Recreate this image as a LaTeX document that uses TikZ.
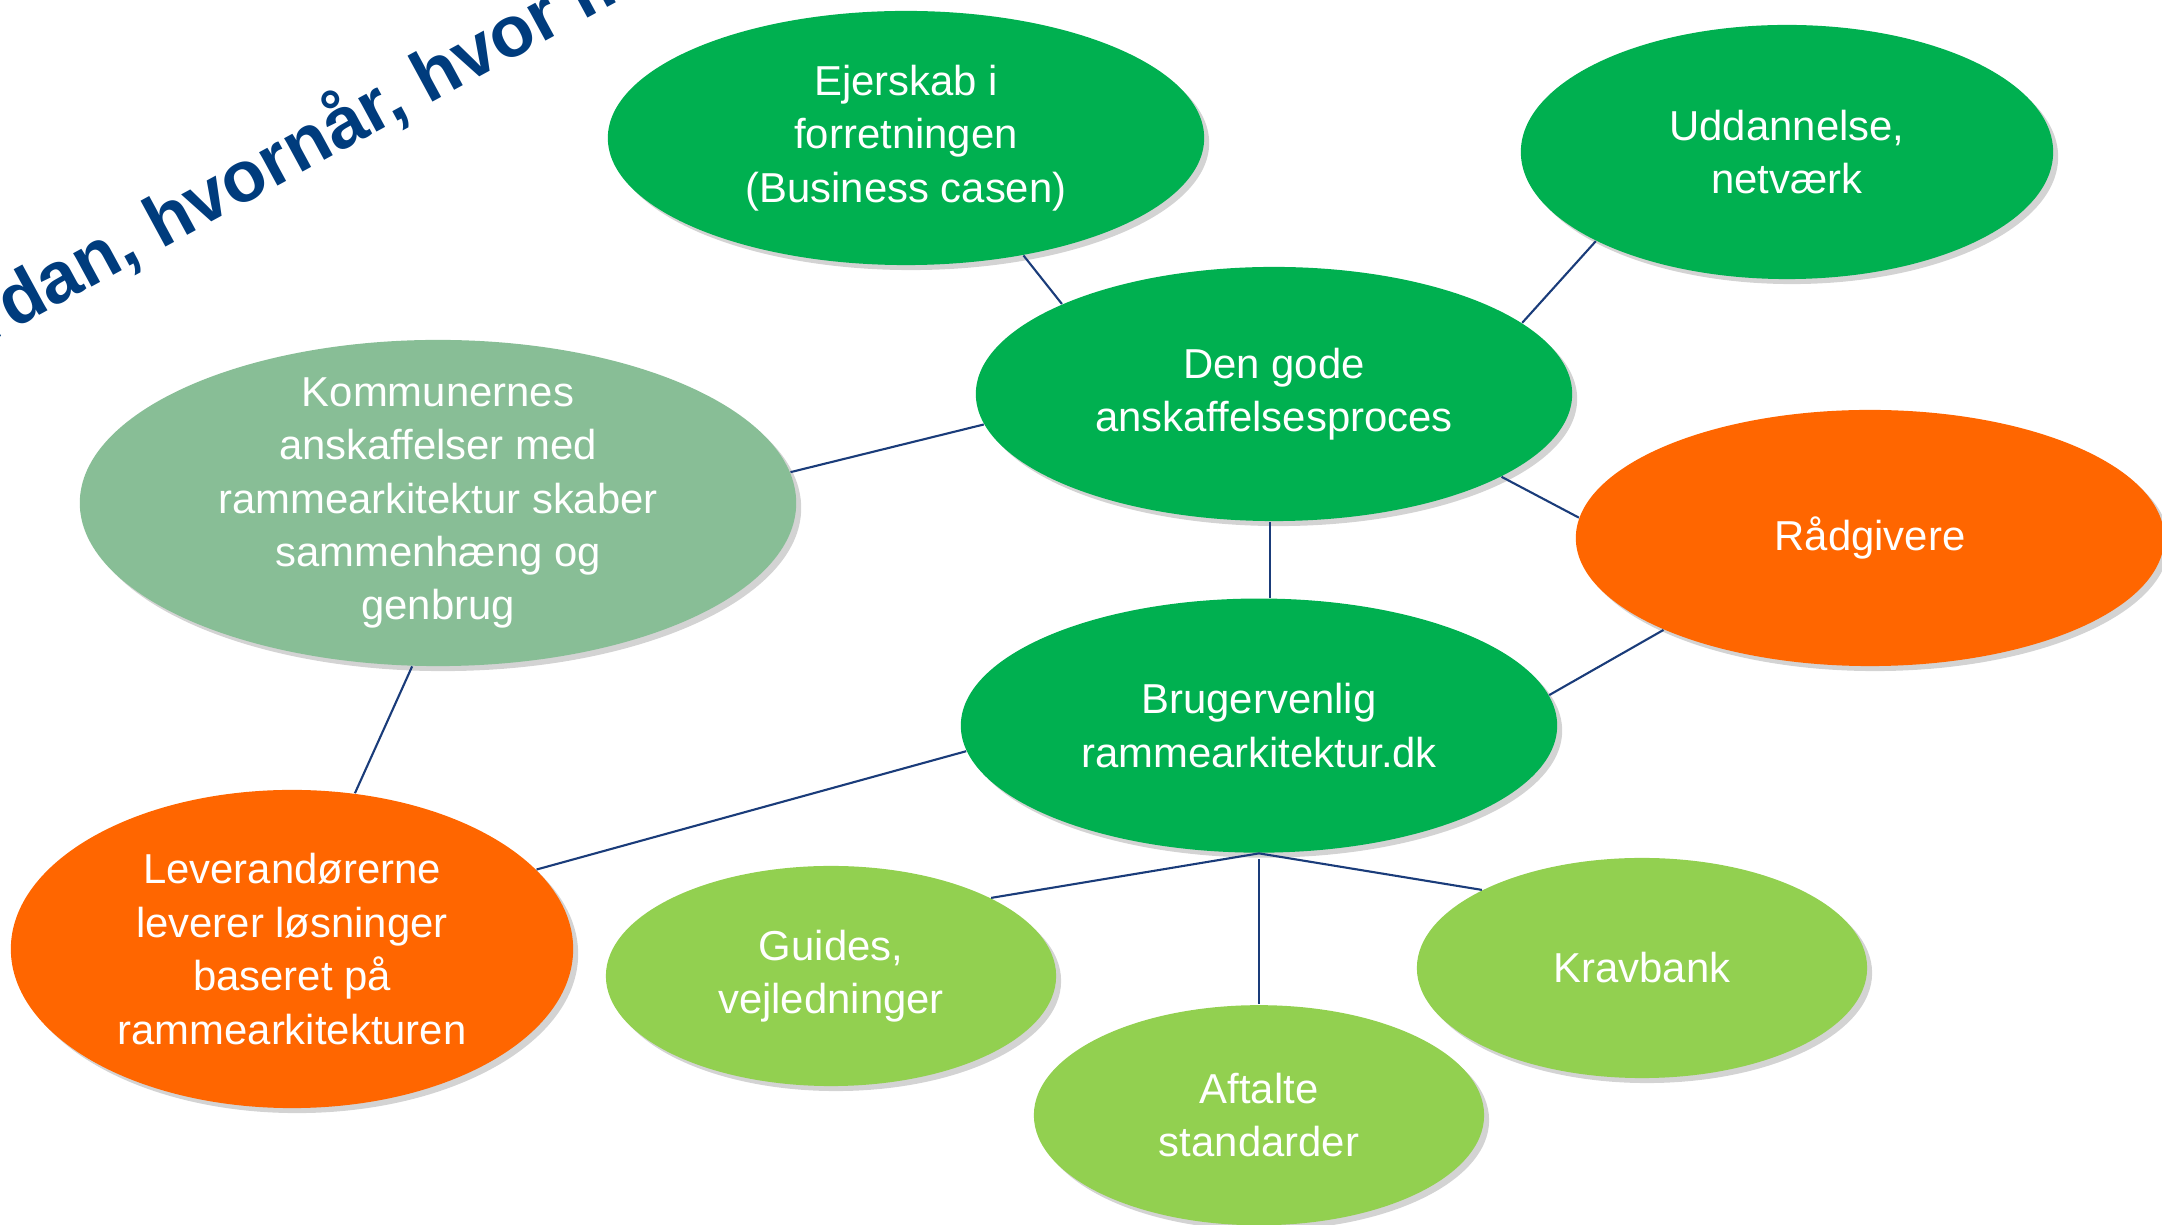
\documentclass[tikz,border=0pt]{standalone}
\usepackage{fontspec}
\setmainfont{Liberation Sans}
\usetikzlibrary{shapes.geometric,shadows,positioning}

\definecolor{darkgreen}{HTML}{00B050}
\definecolor{lightgreen}{HTML}{92D050}
\definecolor{rdorange}{HTML}{FF6600}
\definecolor{greygreen}{HTML}{88BE96}
\definecolor{titleblue}{HTML}{003C7D}
\definecolor{linkblue}{HTML}{1A3C7A}

\tikzset{
  bubble/.style={ellipse, fill=#1, text=white, align=center, inner sep=0pt,
    font=\fontsize{11.9}{15.2}\selectfont,
    drop shadow={opacity=0.35, shadow xshift=0.05cm, shadow yshift=-0.05cm}},
  wide/.style={minimum width=5.96cm, minimum height=2.54cm},
  small/.style={minimum width=4.5cm, minimum height=2.2cm},
  link/.style={draw=linkblue, line width=0.6pt},
  heading/.style={text=titleblue, font=\fontsize{20.5}{24}\selectfont\bfseries}
}

\begin{document}
\begin{tikzpicture}[x=0.01cm,y=0.01cm]

  \useasboundingbox (0,0) rectangle (2162,-1225);
  \clip (0,0) rectangle (2162,-1225);

  \node[heading, rotate=28.5, anchor=base west] (title) at (-142,-414) {Hvordan, hvornår, hvor m};

  %==================================================

  \node[bubble=darkgreen, wide] (gode) at (1274,-394) {Den gode\\anskaffelsesproces};
  \node[bubble=darkgreen, wide, xshift=-0.15 cm, below=0.76 cm of gode] (brug) {Brugervenlig\\rammearkitektur.dk};
  \node[bubble=darkgreen, wide] (ejer) at (906,-138) {Ejerskab i\\forretningen\\(Business casen)};
  \node[bubble=darkgreen, minimum width=5.32cm, minimum height=2.54cm] (udd) at (1787,-152) {Uddannelse,\\netværk};

  \node[bubble=greygreen, minimum width=7.16cm, minimum height=3.26cm, inner ysep=-0.16cm] (komm) at (438,-503)
    {Kommunernes\\anskaffelser med\\rammearkitektur skaber\\sammenhæng og\\genbrug};
  \node[bubble=rdorange, minimum width=5.88cm, minimum height=2.56cm] (raad) at (1870,-538) {Rådgivere};
  \node[bubble=rdorange, minimum width=5.62cm, minimum height=3.18cm] (lev) at (292,-949)
    {Leverandørerne\\leverer løsninger\\baseret på\\rammearkitekturen};

  %==================================================

  \node[bubble=lightgreen, small] (guides) at (831,-976) {Guides,\\vejledninger};
  \node[bubble=lightgreen, small, below=1.51 cm of brug] (aft) {Aftalte\\standarder};
  \node[bubble=lightgreen, small] (krav) at (1642,-968) {Kravbank};

  %==================================================

  \draw[link] (ejer.-45) -- (gode.157);
  \draw[link] (udd.-155) -- (gode.16);
  \draw[link] (komm.5) -- (gode.-174);
  \draw[link] (gode.-20) -- (raad.176);
  \draw[link] ([xshift=-0.04cm]gode.south) -- ([xshift=-0.04cm]gode.south |- brug.north);

  \draw[link] (raad.-156) -- (brug.6);
  \draw[link] (komm.-99) -- (lev.68);
  \draw[link] (lev.18) -- (brug.-175);

  \draw[link] (brug.south) -- (guides.26);
  \draw[link] (brug.south) -- (krav.154);
  \draw[link] ([yshift=-0.06cm]brug.south) -- (aft.north);

\end{tikzpicture}
\end{document}
